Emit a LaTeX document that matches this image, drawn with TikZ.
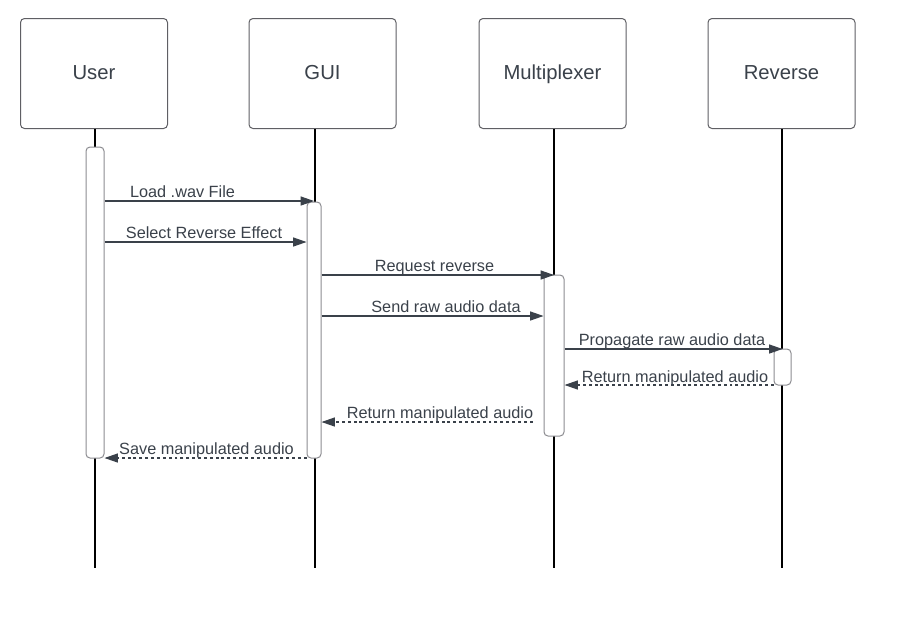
\documentclass[tikz,border=0pt]{standalone}
\usepackage{fontspec}
\setmainfont{Liberation Sans}
\usetikzlibrary{arrows.meta}
\definecolor{txt}{RGB}{58,65,74}
\definecolor{boxline}{RGB}{95,95,100}
\definecolor{barline}{RGB}{140,140,145}
\tikzset{
  actor/.style={draw=boxline, line width=0.75pt, rounded corners=3pt, fill=white,
    minimum width=110.25pt, minimum height=82.5pt, text=txt, font=\fontsize{15.2pt}{18pt}\selectfont, inner sep=0pt,
    text height=10.9pt, text depth=2.2pt},
  actbar/.style={draw=barline, line width=0.75pt, rounded corners=3pt, fill=white, inner sep=0pt},
  lifeline/.style={draw=black, line width=1.2pt},
  msg/.style={draw=txt, line width=0.8pt, -{Triangle[length=10pt,width=6.75pt]}},
  ret/.style={msg, dash pattern=on 2.2pt off 2.2pt},
  lbl/.style={text=txt, font=\fontsize{12.2pt}{14pt}\selectfont, inner sep=0pt, anchor=base}
}
\begin{document}
\begin{tikzpicture}[x=0.75pt,y=-0.75pt]
\useasboundingbox (0,0) rectangle (900,622);
% headers
\node[actor] (user) at (94,73.5) {User};
\node[actor] (gui) at (322.5,73.5) {GUI};
\node[actor] (mux) at (552.5,73.5) {Multiplexer};
\node[actor] (rev) at (781.5,73.5) {Reverse};
% lifeline ends
\coordinate (ue) at (95,568);
\coordinate (ge) at (315,568);
\coordinate (me) at (554,568);
\coordinate (re) at (782,568);
\draw[lifeline] (user.south -| ue) -- (ue);
\draw[lifeline] (gui.south -| ge) -- (ge);
\draw[lifeline] (mux.south -| me) -- (me);
\draw[lifeline] (rev.south -| re) -- (re);
% activation bars
\node[actbar, minimum width=13.5pt, minimum height=233.25pt] (ub) at (95,302.5) {};
\node[actbar, minimum width=10.5pt, minimum height=192pt] (gb) at (314,330) {};
\node[actbar, minimum width=15pt, minimum height=120.75pt] (mb) at (554,355.5) {};
\node[actbar, minimum width=12.75pt, minimum height=27pt] (rb) at (782.5,367) {};
% message levels
\coordinate (y1) at (0,201);
\coordinate (y2) at (0,242);
\coordinate (y3) at (0,275);
\coordinate (y4) at (0,316);
\coordinate (y5) at (0,349);
\coordinate (y6) at (0,385);
\coordinate (y7) at (0,422);
\coordinate (y8) at (0,458);
% messages
\draw[msg] (ub.east |- y1) -- (gb.north |- y1);
\draw[msg] (ub.east |- y2) -- (gb.west |- y2);
\draw[msg] (gb.east |- y3) -- (mb.north |- y3);
\draw[msg] (gb.east |- y4) -- (mb.west |- y4);
\draw[msg] (mb.east |- y5) -- (rb.north |- y5);
\draw[ret] (rb.west |- y6) -- (mb.east |- y6);
\draw[ret] ([xshift=-8.25pt]mb.west |- y7) -- (gb.east |- y7);
\draw[ret] (gb.west |- y8) -- (ub.east |- y8);
% labels
\node[lbl] (l1) at (182.5,197) {Load .wav File};
\node[lbl] (l2) at (204,238) {Select Reverse Effect};
\node[lbl] (l3) at (434.5,271) {Request reverse};
\node[lbl] (l4) at (446,312) {Send raw audio data};
\node[lbl] (l5) at (672,345) {Propagate raw audio data};
\node[lbl] (l6) at (675,382) {Return manipulated audio};
\node[lbl] (l7) at (440,418.5) {Return manipulated audio};
\node[lbl] (l8) at (206.5,454) {Save manipulated audio};
\end{tikzpicture}
\end{document}
